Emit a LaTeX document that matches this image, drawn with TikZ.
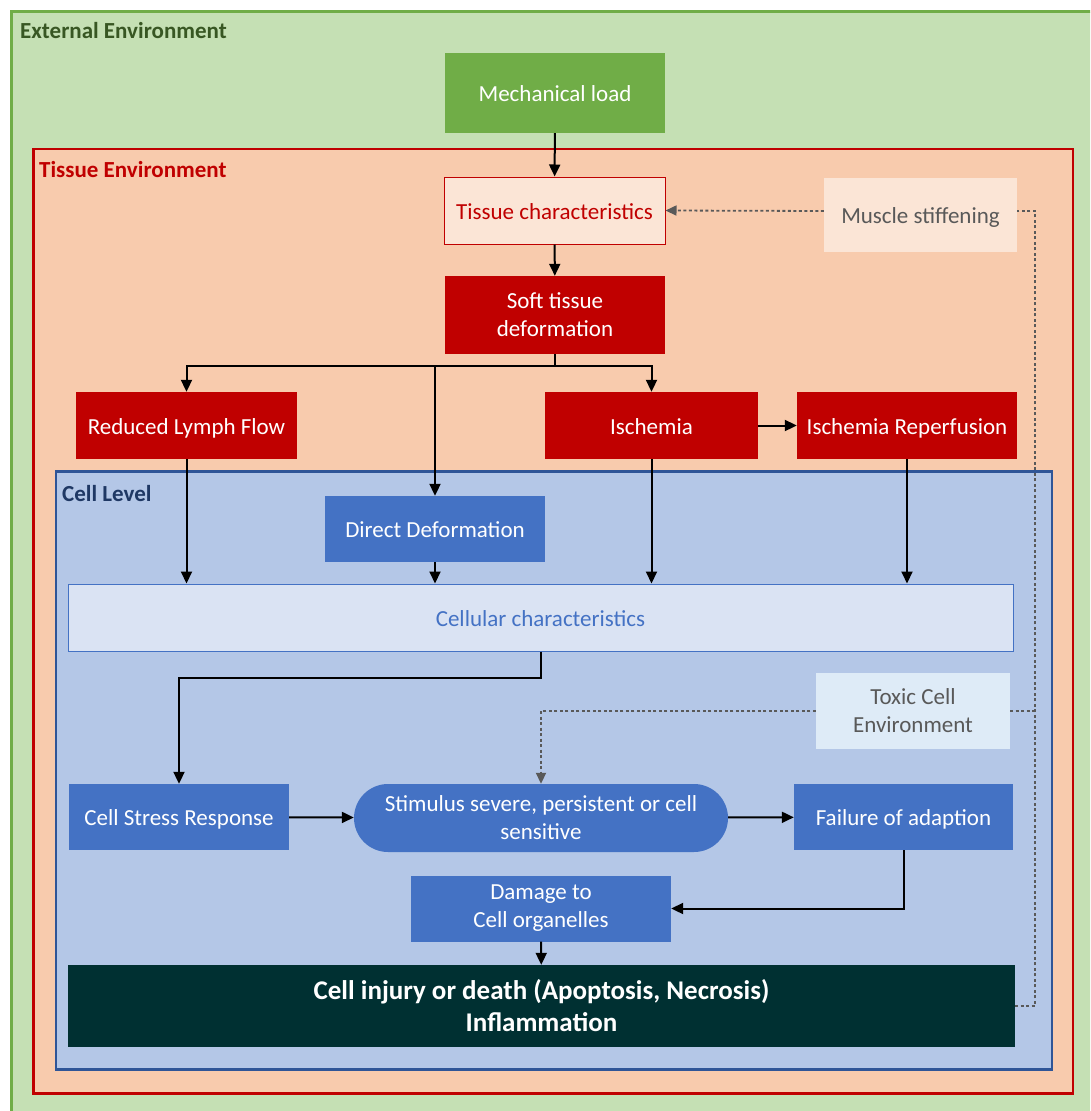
\documentclass[tikz,border=0pt]{standalone}
\usepackage{fontspec}
\setmainfont{Carlito}
\usetikzlibrary{arrows.meta}

\definecolor{envgreen}{HTML}{C5E0B4}
\definecolor{loadgreen}{HTML}{70AD47}
\definecolor{titlegreen}{HTML}{385723}
\definecolor{tissuefill}{HTML}{F8CBAD}
\definecolor{tissuered}{HTML}{C00000}
\definecolor{palepeach}{HTML}{FBE5D6}
\definecolor{cellfill}{HTML}{B4C7E7}
\definecolor{cellborder}{HTML}{2F5597}
\definecolor{celltitle}{HTML}{1F3864}
\definecolor{cellblue}{HTML}{4472C4}
\definecolor{palecell}{HTML}{DAE3F3}
\definecolor{paletoxic}{HTML}{DEEBF7}
\definecolor{greytext}{HTML}{595959}
\definecolor{injurydark}{HTML}{003032}

\tikzset{
  box/.style={rectangle, inner sep=0pt, align=center, font=\fontsize{23}{28}\selectfont},
  oneline/.style={text height=20pt, text depth=2.5pt},
  redbox/.style={box, fill=tissuered, text=white},
  bluebox/.style={box, fill=cellblue, text=white},
  arr/.style={line width=2pt, -{Triangle[length=12pt,width=11pt]}},
  dotline/.style={line width=1.8pt, greytext, dash pattern=on 3pt off 2.5pt},
  title/.style={anchor=west, inner sep=0pt, text height=20pt, text depth=2.5pt, font=\fontsize{23}{28}\selectfont\bfseries}
}

\begin{document}
\begin{tikzpicture}[x=1pt, y=-1pt]
    \useasboundingbox (0,0) rectangle (1090,1111);
    \clip (0,0) rectangle (1090,1111);

    % Draw environments
    \filldraw[fill=envgreen, draw=loadgreen, line width=3pt] (11.5,11.5) rectangle (1110,1130);
    \filldraw[fill=tissuefill, draw=tissuered, line width=2.5pt] (33.5,149) rectangle (1073,1093.5);
    \filldraw[fill=cellfill, draw=cellborder, line width=2.5pt] (56,471.5) rectangle (1052,1069.5);
    \node[title, text=titlegreen] (exttitle) at (20,30) {External Environment};
    \node[title, text=tissuered] (tistitle) at (39,169) {Tissue Environment};
    \node[title, text=celltitle] (celltitle) at (62,493) {Cell Level};

    % Draw nodes
    \node[box, oneline, fill=loadgreen, text=white, minimum width=220pt, minimum height=80pt] (mech) at (555,93) {Mechanical load};
    \node[box, oneline, fill=palepeach, draw=tissuered, line width=1pt, text=tissuered, minimum width=221pt, minimum height=67pt] (tchar) at (554.5,210.5) {Tissue characteristics};
    \node[box, oneline, fill=palepeach, text=greytext, minimum width=193pt, minimum height=74pt] (muscle) at (920.5,215) {Muscle stiffening};
    \node[redbox, minimum width=220pt, minimum height=78pt] (soft) at (555,315) {Soft tissue\\deformation};
    \node[redbox, oneline, minimum width=221pt, minimum height=67pt] (lymph) at (186.5,425.5) {Reduced Lymph Flow};
    \node[redbox, oneline, minimum width=213pt, minimum height=67pt] (isch) at (651.5,425.5) {Ischemia};
    \node[redbox, oneline, minimum width=220pt, minimum height=67pt] (reperf) at (907,425.5) {Ischemia Reperfusion};
    \node[bluebox, oneline, minimum width=220pt, minimum height=66pt] (direct) at (435,529) {Direct Deformation};
    \node[box, oneline, fill=palecell, draw=cellblue, line width=1pt, text=cellblue, minimum width=945pt, minimum height=67pt] (cellchar) at (540.5,617.5) {Cellular characteristics};
    \node[box, fill=paletoxic, text=greytext, minimum width=194pt, minimum height=76pt] (toxic) at (913,711) {Toxic Cell\\Environment};
    \node[bluebox, oneline, minimum width=220pt, minimum height=66pt] (stress) at (179,817) {Cell Stress Response};
    \node[bluebox, rounded corners=34pt, minimum width=374pt, minimum height=68pt] (stimulus) at (541,818) {Stimulus severe, persistent or cell\\sensitive};
    \node[bluebox, oneline, minimum width=219pt, minimum height=66pt] (failure) at (903.5,817) {Failure of adaption};
    \node[bluebox, minimum width=260pt, minimum height=66pt] (damage) at (541,908.5) {Damage to\\Cell organelles};
    \node[box, fill=injurydark, text=white, font=\fontsize{27}{32}\selectfont\bfseries, minimum width=947pt, minimum height=82pt] (injury) at (541.5,1006) {Cell injury or death (Apoptosis, Necrosis)\\Inflammation};

    % Draw directed edges
    \coordinate (split) at (555,366);
    \draw[arr] (mech) -- (tchar);
    \draw[arr] (tchar) -- (soft);
    \draw[line width=2pt] (soft.south) -- (split);
    \draw[arr] (split) -| (lymph.north);
    \draw[arr] (split) -| (isch.north);
    \draw[arr] (split -| direct.north) -- (direct.north);
    \draw[arr] (lymph.south) -- (lymph.south |- cellchar.north);
    \draw[arr] (direct.south) -- (direct.south |- cellchar.north);
    \draw[arr] (isch.south) -- (isch.south |- cellchar.north);
    \draw[arr] (isch) -- (reperf);
    \draw[arr] (reperf.south) -- (reperf.south |- cellchar.north);
    \draw[arr] (cellchar.south) -- ++(0,26) -| (stress.north);
    \draw[arr] (stress) -- (stimulus);
    \draw[arr] (stimulus) -- (failure);
    \draw[arr] (failure.south) |- (damage.east);
    \draw[arr] (damage) -- (injury);

    % Dotted feedback lines
    \coordinate (rail) at (1035,211);
    \draw[dotline] (injury.east) -| (rail) -- (rail -| muscle.east);
    \draw[dotline, -{Triangle[length=11pt,width=10pt]}] (muscle.west |- rail) -- (tchar.east);
    \draw[dotline] (toxic.east) -- (rail |- toxic.east);
    \draw[dotline, -{Triangle[length=11pt,width=10pt]}] (toxic.west) -| (stimulus.north);
\end{tikzpicture}
\end{document}
